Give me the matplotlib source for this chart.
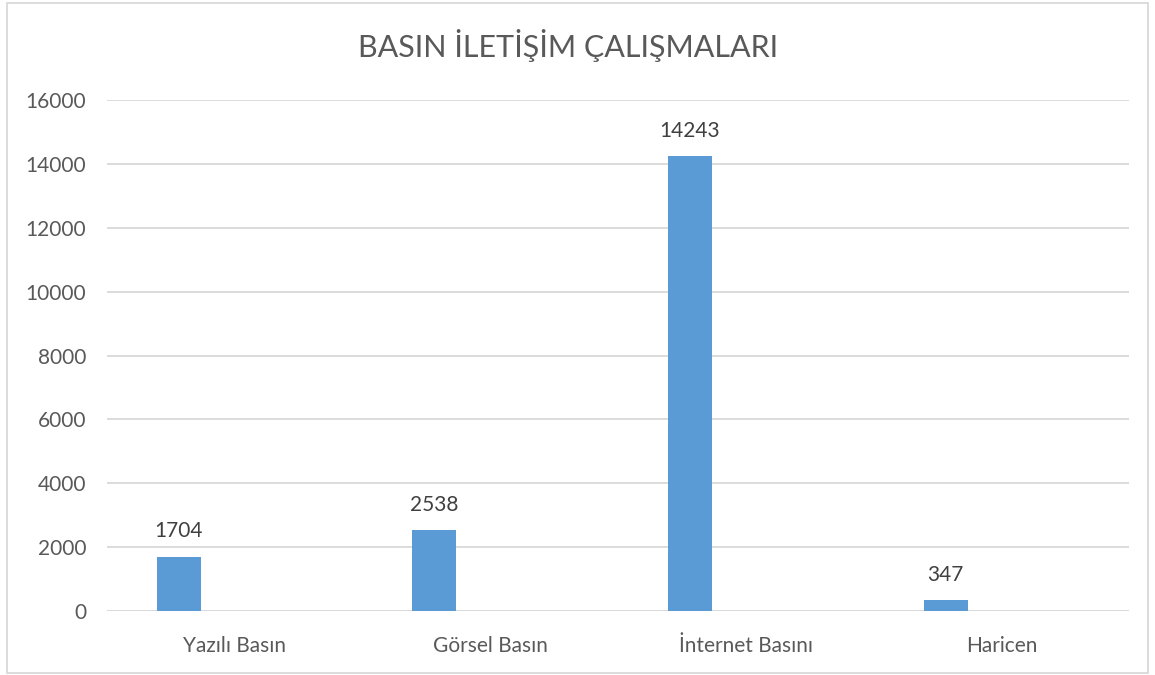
import matplotlib.pyplot as plt
from matplotlib.patches import Rectangle
import numpy as np

# Chart data
categories = ["Yazılı Basın", "Görsel Basın", "İnternet Basını", "Haricen"]
values = [1704, 2538, 14243, 347]
y_ticks = [0, 2000, 4000, 6000, 8000, 10000, 12000, 14000, 16000]

plt.rcParams['font.family'] = ['Lato', 'DejaVu Sans']
text_col = '#595959'
grid_col = '#D9D9D9'

fig = plt.figure(figsize=(11.55, 6.75), dpi=100)
ax = fig.add_axes([0.0926, 0.0948, 0.8853, 0.757])

x = np.arange(len(categories))
# bar sits left of the category centre, like an Excel clustered column
bars = ax.bar(x - 0.219, values, width=0.172, color='#5B9BD5', zorder=3)

for b, v in zip(bars, values):
    ax.annotate(str(v), (b.get_x() + b.get_width() / 2, v),
                xytext=(0, 11), textcoords='offset points',
                ha='center', va='bottom', fontsize=15, color='#404040')

ax.set_xlim(-0.5, len(categories) - 0.5)
ax.set_ylim(0, 16000)
ax.set_yticks(y_ticks)
ax.set_xticks(x)
ax.set_xticklabels(categories)
ax.tick_params(axis='both', length=0, labelsize=15, labelcolor=text_col)
ax.tick_params(axis='y', pad=15)
ax.tick_params(axis='x', pad=18)
ax.yaxis.grid(True, color=grid_col, linewidth=1.3, zorder=0)
for s in ax.spines.values():
    s.set_visible(False)
ax.axhline(0, color=grid_col, linewidth=1.3, zorder=2)

fig.text(0.492, 0.933, "BASIN İLETİŞİM ÇALIŞMALARI", ha='center', va='center',
         fontsize=22, color=text_col)

fig.patches.append(Rectangle((0.006, 0.003), 0.988, 0.992, transform=fig.transFigure,
                             fill=False, edgecolor=grid_col, linewidth=1.3))

plt.savefig('out.png', dpi=100)
